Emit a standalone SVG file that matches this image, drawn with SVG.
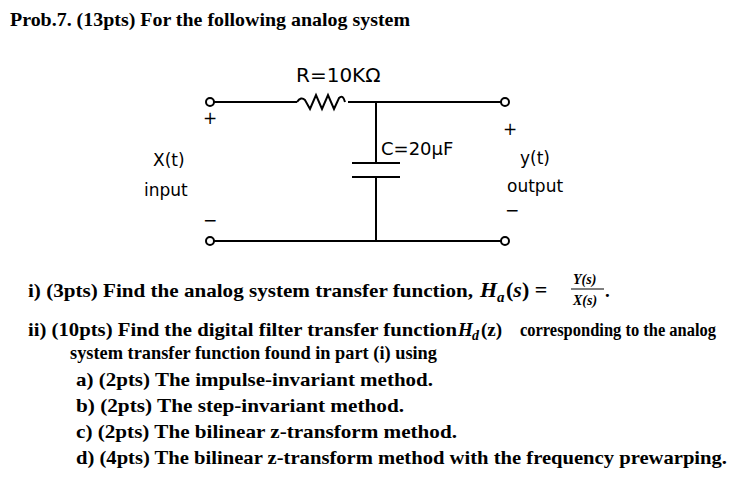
<svg xmlns="http://www.w3.org/2000/svg" width="744" height="484" viewBox="0 0 744 484">
<style>
.t{font-family:"Liberation Serif",serif;font-weight:bold;font-size:19px;fill:#000}
.i{font-style:italic}
.h{font-family:"DejaVu Sans",sans-serif;font-size:17px;fill:#000}
.w{stroke:#000;stroke-width:2;fill:none}
.term{stroke:#000;stroke-width:2;fill:#fff}
</style>
<rect width="744" height="484" fill="#fff"/>
<text class="t" x="10" y="26" textLength="400" lengthAdjust="spacingAndGlyphs">Prob.7. (13pts) For the following analog system</text>
<g id="connectors">
<path class="w" d="M214 102 H297 M348 102 H501 M376 102 V163 M376 177 V241 M214 241 H501"/>
<path class="w" d="M297 102 q4 -6 8 -2 l5 9 l6 -14 l6 14 l6 -14 l6 14 l5 -11 q4 -4 6 4"/>
<path class="w" d="M352 163 H400 M352 177 H400"/>
</g>
<g id="term-in-p"><circle class="term" cx="210" cy="102" r="4"/></g>
<g id="term-in-n"><circle class="term" cx="210" cy="241" r="4"/></g>
<g id="term-out-p"><circle class="term" cx="505" cy="102" r="4"/></g>
<g id="term-out-n"><circle class="term" cx="505" cy="241" r="4"/></g>
<g id="labels">
<text class="h" x="296" y="82" style="font-size:20px">R=10KΩ</text>
<text class="h" x="381" y="155" style="font-size:18px">C=20μF</text>
<text class="h" x="203" y="124">+</text>
<text class="h" x="153" y="166">X(t)</text>
<text class="h" x="144" y="196">input</text>
<text class="h" x="203" y="226">−</text>
<text class="h" x="503" y="135">+</text>
<text class="h" x="520" y="164">y(t)</text>
<text class="h" x="507" y="192">output</text>
<text class="h" x="505" y="216">−</text>
</g>
<text class="t" x="28" y="297" textLength="445" lengthAdjust="spacingAndGlyphs">i) (3pts) Find the analog system transfer function,</text>
<text class="t i" x="480" y="297" style="font-size:22px">H</text>
<text class="t i" x="497" y="302" style="font-size:15px">a</text>
<text class="t" x="506" y="297" style="font-size:22px">(<tspan class="i">s</tspan>) =</text>
<text class="t i" x="573" y="284" style="font-size:14px">Y(s)</text>
<line x1="571" y1="289" x2="604" y2="289" stroke="#000" stroke-width="1.2"/>
<text class="t i" x="573" y="305" style="font-size:14px">X(s)</text>
<text class="t" x="605" y="297">.</text>
<text class="t" x="28" y="336" textLength="429" lengthAdjust="spacingAndGlyphs">ii) (10pts) Find the digital filter transfer function</text>
<text class="t i" x="458" y="336">H</text>
<text class="t i" x="472" y="340" style="font-size:14px">d</text>
<text class="t" x="481" y="336">(z)</text>
<text class="t" x="520" y="336" style="font-size:18px" textLength="196" lengthAdjust="spacingAndGlyphs">corresponding to the analog</text>
<text class="t" x="70" y="359" textLength="367" lengthAdjust="spacingAndGlyphs">system transfer function found in part (i) using</text>
<text class="t" x="76" y="386" textLength="357" lengthAdjust="spacingAndGlyphs">a)  (2pts) The impulse-invariant method.</text>
<text class="t" x="76" y="412" textLength="328" lengthAdjust="spacingAndGlyphs">b)  (2pts) The step-invariant method.</text>
<text class="t" x="76" y="438" textLength="381" lengthAdjust="spacingAndGlyphs">c)  (2pts) The bilinear z-transform method.</text>
<text class="t" x="76" y="464" textLength="651" lengthAdjust="spacingAndGlyphs">d)  (4pts) The bilinear z-transform method with the frequency prewarping.</text>
</svg>
